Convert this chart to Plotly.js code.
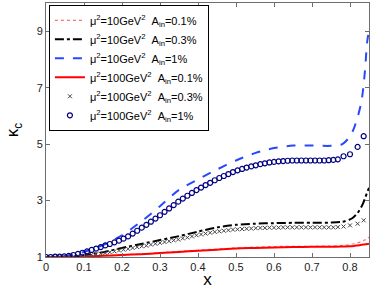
<!DOCTYPE html>
<html>
<head>
<meta charset="utf-8">
<script src="https://cdn.plot.ly/plotly-3.0.1.min.js"></script>
<style>html,body{margin:0;padding:0;background:#fff;}#chart{width:374px;height:289px;}</style>
</head>
<body>
<div id="chart"></div>
<script>
// x grid for the line curves
var xLine = [0,0.05,0.1,0.15,0.2,0.25,0.3,0.35,0.4,0.45,0.5,0.55,0.6,0.65,0.7,0.75,0.78,0.8,0.81,0.82,0.83,0.835,0.84,0.845,0.85];
// mu^2=10 GeV^2, A_in=0.1% (dotted pink)
var y10_01 = [1.0,1.005,1.02,1.045,1.08,1.11,1.15,1.2,1.24,1.28,1.32,1.35,1.37,1.38,1.38,1.39,1.41,1.44,1.47,1.5,1.55,1.58,1.61,1.65,1.7];
// mu^2=10 GeV^2, A_in=0.3% (dash-dot black)
var y10_03 = [1.0,1.01,1.06,1.17,1.32,1.46,1.6,1.74,1.9,2.05,2.14,2.18,2.2,2.21,2.21,2.22,2.25,2.33,2.42,2.56,2.78,2.92,3.1,3.28,3.45];
// mu^2=10 GeV^2, A_in=1% (dashed blue)
var y10_1 = [1.0,1.04,1.18,1.42,1.77,2.25,2.8,3.38,3.75,4.1,4.42,4.68,4.86,4.95,4.95,4.94,5.0,5.28,5.55,5.95,6.5,7.0,7.7,8.6,9.05];
// mu^2=100 GeV^2, A_in=0.1% (solid red)
var y100_01 = [1.0,1.005,1.02,1.04,1.07,1.1,1.14,1.18,1.22,1.26,1.3,1.32,1.34,1.35,1.36,1.36,1.37,1.38,1.39,1.41,1.43,1.44,1.45,1.46,1.47];

// x grid for the marker series
var xMark = [0,0.012,0.024,0.036,0.048,0.06,0.072,0.084,0.096,0.108,
  0.12,0.132,0.144,0.156,0.168,0.18,0.192,0.204,0.216,0.228,
  0.24,0.252,0.264,0.276,0.288,0.3,0.312,0.324,0.336,0.348,
  0.36,0.372,0.384,0.396,0.408,0.42,0.432,0.444,0.456,0.468,
  0.48,0.492,0.504,0.516,0.528,0.54,0.552,0.564,0.576,0.588,
  0.6,0.612,0.624,0.636,0.648,0.66,0.672,0.684,0.696,0.708,
  0.72,0.732,0.744,0.756,0.768,0.783,0.8,0.82,0.836];
// mu^2=100 GeV^2, A_in=0.3% (x markers)
var y100_03 = [1.00,1.00,1.00,1.01,1.01,1.01,1.02,1.03,1.05,1.06,
  1.08,1.10,1.12,1.14,1.17,1.20,1.23,1.26,1.29,1.32,
  1.35,1.38,1.40,1.44,1.47,1.50,1.53,1.56,1.59,1.62,
  1.66,1.69,1.73,1.77,1.80,1.83,1.86,1.89,1.91,1.93,
  1.95,1.97,1.98,1.99,2.00,2.01,2.02,2.03,2.03,2.04,
  2.04,2.04,2.05,2.05,2.05,2.05,2.05,2.05,2.05,2.05,
  2.05,2.05,2.05,2.05,2.06,2.08,2.12,2.18,2.30];
// mu^2=100 GeV^2, A_in=1% (open circles)
var y100_1 = [1.00,1.00,1.01,1.01,1.02,1.04,1.07,1.11,1.15,1.20,
  1.25,1.30,1.35,1.41,1.46,1.52,1.58,1.65,1.73,1.83,
  1.93,2.04,2.14,2.25,2.36,2.48,2.60,2.72,2.84,2.96,
  3.07,3.17,3.27,3.37,3.46,3.55,3.63,3.72,3.80,3.87,
  3.94,4.01,4.07,4.12,4.17,4.21,4.25,4.29,4.32,4.35,
  4.37,4.39,4.40,4.41,4.42,4.42,4.42,4.42,4.42,4.42,
  4.42,4.42,4.43,4.44,4.46,4.57,4.64,4.90,5.28];

var legendNames = [
  "μ<sup>2</sup>=10GeV<sup>2</sup>\u00a0\u00a0A<sub>in</sub>=0.1%",
  "μ<sup>2</sup>=10GeV<sup>2</sup>\u00a0\u00a0A<sub>in</sub>=0.3%",
  "μ<sup>2</sup>=10GeV<sup>2</sup>\u00a0\u00a0A<sub>in</sub>=1%",
  "μ<sup>2</sup>=100GeV<sup>2</sup>\u00a0\u00a0A<sub>in</sub>=0.1%",
  "μ<sup>2</sup>=100GeV<sup>2</sup>\u00a0\u00a0A<sub>in</sub>=0.3%",
  "μ<sup>2</sup>=100GeV<sup>2</sup>\u00a0\u00a0A<sub>in</sub>=1%"
];
var xTicks = [0,0.1,0.2,0.3,0.4,0.5,0.6,0.7,0.8];
var yTicks = [1,3,5,7,9];

var traces = [
  {x:xLine, y:y10_01, mode:'lines', name:legendNames[0],
   line:{color:'#ff7070', width:1.2, dash:'dot', shape:'spline', smoothing:0.8}},
  {x:xLine, y:y10_03, mode:'lines', name:legendNames[1],
   line:{color:'#000000', width:2, dash:'dashdot', shape:'spline', smoothing:0.8}},
  {x:xLine, y:y10_1, mode:'lines', name:legendNames[2],
   line:{color:'#2848ff', width:2, dash:'dash', shape:'spline', smoothing:0.8}},
  {x:xLine, y:y100_01, mode:'lines', name:legendNames[3],
   line:{color:'#ff0000', width:2, shape:'spline', smoothing:0.8}},
  {x:xMark, y:y100_03, mode:'markers', name:legendNames[4],
   marker:{symbol:'x-thin-open', size:4, color:'#444444', line:{width:1, color:'#444444'}}},
  {x:xMark, y:y100_1, mode:'markers', name:legendNames[5],
   marker:{symbol:'circle-open', size:5, color:'#000080', line:{width:1.2, color:'#000080'}}}
];

var axisCommon = {
  showline:true, linecolor:'#6e6e6e', linewidth:1, mirror:'ticks',
  ticks:'inside', ticklen:4, tickcolor:'#6e6e6e', showgrid:false, zeroline:false,
  tickfont:{family:'Liberation Sans, Arial, sans-serif', size:11, color:'#222'}
};

var layout = {
  width:374, height:289,
  margin:{l:46, r:5, t:3, b:32},
  paper_bgcolor:'#fff', plot_bgcolor:'#fff',
  showlegend:true,
  legend:{x:0.009, y:0.993, xanchor:'left', yanchor:'top',
    bgcolor:'#fff', bordercolor:'#000', borderwidth:1, tracegroupgap:0,
    font:{family:'Liberation Sans, Arial, sans-serif', size:11, color:'#000'}},
  xaxis:Object.assign({}, axisCommon, {
    range:[0,0.85], tickvals:xTicks, ticktext:xTicks.map(String),
    title:{text:'x', font:{family:'Liberation Sans, Arial, sans-serif', size:17, color:'#000'}, standoff:2}
  }),
  yaxis:Object.assign({}, axisCommon, {
    range:[1,10], tickvals:yTicks, ticktext:yTicks.map(String), automargin:true,
    title:{text:'κ<sub>c</sub>', font:{family:'Liberation Sans, Arial, sans-serif', size:17, color:'#000'}, standoff:13}
  })
};

Plotly.newPlot('chart', traces, layout, {displayModeBar:false, staticPlot:true});
</script>
</body>
</html>
